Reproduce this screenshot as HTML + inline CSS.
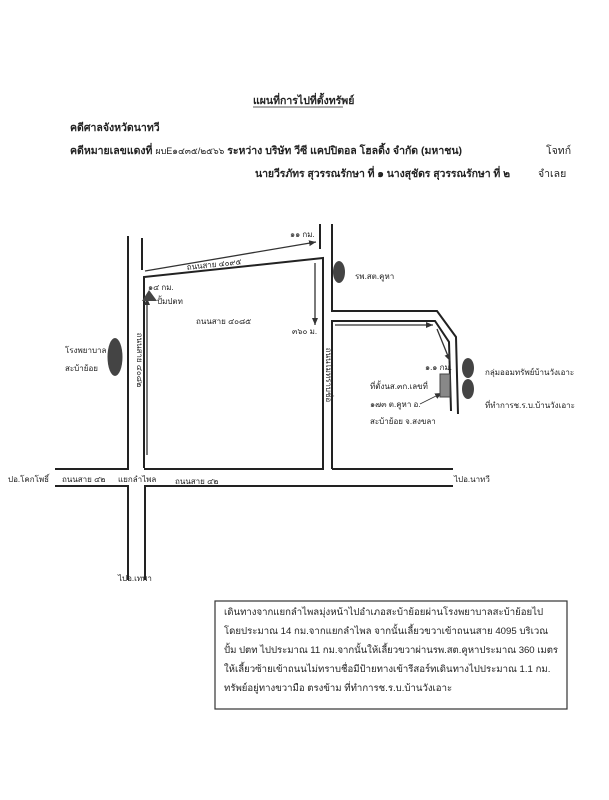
<!DOCTYPE html>
<html><head><meta charset="utf-8"><style>
body{margin:0;background:#fff;}
svg{display:block}
text{font-family:"Liberation Sans","Noto Sans CJK SC",sans-serif;fill:#222;}
</style></head><body>
<svg width="609" height="800" viewBox="0 0 609 800" xmlns="http://www.w3.org/2000/svg">
<defs><marker id="a" markerWidth="8" markerHeight="8" refX="7" refY="4" orient="auto" markerUnits="userSpaceOnUse"><path d="M0,1 L7,4 L0,7 z" fill="#333"/></marker></defs>
<g font-size="10.5">
<text x="253" y="104" font-weight="bold">แผนที่การไปที่ตั้งทรัพย์</text>
<line x1="253" y1="107" x2="343" y2="107" stroke="#222" stroke-width="0.8"/>
<text x="70" y="131" font-weight="bold">คดีศาลจังหวัดนาทวี</text>
<text x="70" y="154" font-weight="bold" textLength="392">คดีหมายเลขแดงที่ <tspan font-weight="normal" font-size="9">ผบE๑๔๓๕/๒๕๖๖</tspan>   ระหว่าง บริษัท วีซี แคปปิตอล โฮลดิ้ง จำกัด (มหาชน)</text>
<text x="546" y="154">โจทก์</text>
<text x="255" y="177" font-weight="bold" textLength="255">นายวีรภัทร  สุวรรณรักษา ที่ ๑ นางสุชัดร สุวรรณรักษา ที่ ๒</text>
<text x="538" y="177">จำเลย</text>
</g>
<g stroke="#222" stroke-width="2" fill="none">
<polyline points="128,236 128,469 55,469"/>
<polyline points="144,468 144,277 323,258 323,469 144,469"/>
<polyline points="142,238 142,270"/>
<polyline points="320,224 320,249"/>
<polyline points="332,224 332,311 437,311 456,337 458,414"/>
<polyline points="332,469 332,321 435,321 449,342 451,411"/>
<line x1="332" y1="469" x2="453" y2="469"/>
<polyline points="55,486 128,486 128,580"/>
<polyline points="145,580 145,486 453,486"/>
</g>
<g stroke="#333" stroke-width="1.3" fill="none" marker-end="url(#a)">
<line x1="145" y1="271" x2="316" y2="242"/>
<line x1="315" y1="263" x2="315" y2="325"/>
<line x1="147" y1="455" x2="147" y2="298"/>
<line x1="335" y1="325" x2="433" y2="325"/>
<line x1="437" y1="329" x2="450" y2="361"/>
<line x1="420" y1="404" x2="442" y2="393" stroke-width="0.8"/>
</g>
<g fill="#444">
<ellipse cx="115" cy="357" rx="7.5" ry="19"/>
<ellipse cx="339" cy="272" rx="6" ry="11"/>
<ellipse cx="468" cy="368" rx="6" ry="10"/>
<ellipse cx="468" cy="389" rx="6" ry="10"/>
<polygon points="142,301 149,290 157,301"/>
<rect x="440" y="374" width="10" height="23" fill="#888" stroke="#444"/>
</g>
<g font-size="8">
<text x="290" y="237">๑๑ กม.</text>
<text x="187" y="270" transform="rotate(-6 187 270)">ถนนสาย ๔๐๙๕</text>
<text x="148" y="290">๑๔ กม.</text>
<text x="157" y="304">ปั้มปตท</text>
<text x="196" y="324">ถนนสาย ๔๐๘๕</text>
<text x="292" y="334">๓๖๐ ม.</text>
<text x="355" y="279">รพ.สต.คูหา</text>
<text x="65" y="353">โรงพยาบาล</text>
<text x="65" y="371">สะบ้าย้อย</text>
<text x="137" y="360" transform="rotate(90 137 360)" text-anchor="middle">ถนนสาย ๔๐๘๒</text>
<text x="326" y="375" transform="rotate(90 326 375)" text-anchor="middle">ถนนไม่ทราบชื่อ</text>
<text x="425" y="370">๑.๑ กม.</text>
<text x="370" y="389">ที่ตั้งนส.๓ก.เลขที่</text>
<text x="370" y="407">๑๗๓ ต.คูหา อ.</text>
<text x="370" y="424">สะบ้าย้อย จ.สงขลา</text>
<text x="485" y="375">กลุ่มออมทรัพย์บ้านวังเอาะ</text>
<text x="485" y="408">ที่ทำการช.ร.บ.บ้านวังเอาะ</text>
<text x="8" y="482">ปอ.โคกโพธิ์</text>
<text x="62" y="482">ถนนสาย ๔๒</text>
<text x="118" y="482">แยกลำไพล</text>
<text x="175" y="484">ถนนสาย ๔๒</text>
<text x="454" y="482">ไปอ.นาทวี</text>
<text x="118" y="581">ไปอ.เทพา</text>
</g>
<rect x="215" y="601" width="352" height="108" fill="none" stroke="#333" stroke-width="1.2"/>
<g font-size="9.6">
<text x="224" y="615">เดินทางจากแยกลำไพลมุ่งหน้าไปอำเภอสะบ้าย้อยผ่านโรงพยาบาลสะบ้าย้อยไป</text>
<text x="224" y="634">โดยประมาณ 14 กม.จากแยกลำไพล จากนั้นเลี้ยวขวาเข้าถนนสาย 4095 บริเวณ</text>
<text x="224" y="653" textLength="334">ปั้ม ปตท ไปประมาณ 11 กม.จากนั้นให้เลี้ยวขวาผ่านรพ.สต.คูหาประมาณ 360 เมตร</text>
<text x="224" y="672">ให้เลี้ยวซ้ายเข้าถนนไม่ทราบชื่อมีป้ายทางเข้ารีสอร์ทเดินทางไปประมาณ 1.1 กม.</text>
<text x="224" y="691">ทรัพย์อยู่ทางขวามือ ตรงข้าม ที่ทำการช.ร.บ.บ้านวังเอาะ</text>
</g>
</svg>
</body></html>
